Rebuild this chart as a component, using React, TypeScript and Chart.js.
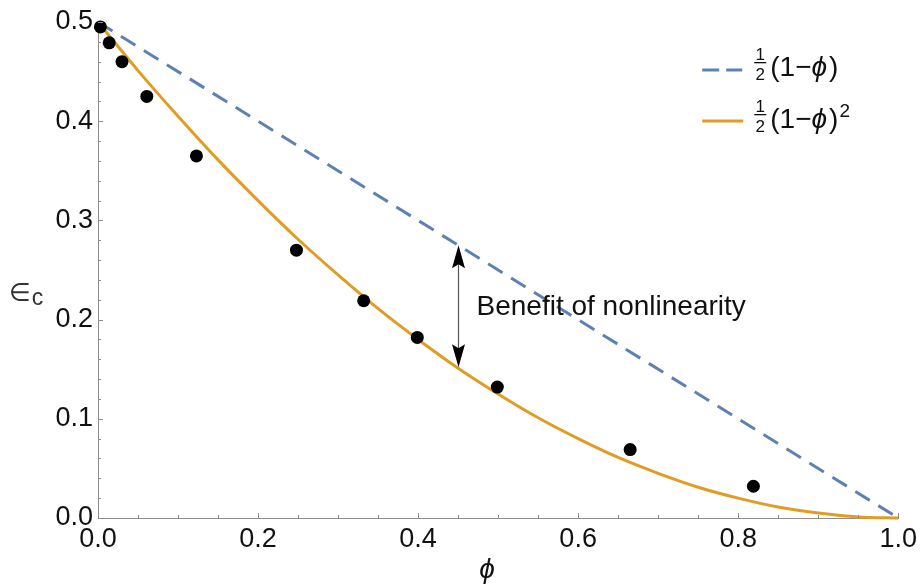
import React, { useEffect, useRef } from "react";
import { Chart, registerables } from "chart.js";

Chart.register(...registerables);

// Simulation points
const phiSamples = [0.003, 0.014, 0.03, 0.061, 0.123, 0.248, 0.332, 0.399, 0.499, 0.665, 0.819];
const epsSamples = [0.495, 0.479, 0.46, 0.425, 0.365, 0.27, 0.219, 0.182, 0.132, 0.069, 0.032];

// Quadratic curve ½(1−ϕ)²
const curvePhi = [0, 0.05, 0.1, 0.15, 0.2, 0.25, 0.3, 0.35, 0.4, 0.45, 0.5, 0.55, 0.6, 0.65, 0.7, 0.75, 0.8, 0.85, 0.9, 0.95, 1.0];
const quadEps = [0.5, 0.451, 0.405, 0.361, 0.32, 0.281, 0.245, 0.211, 0.18, 0.151, 0.125, 0.101, 0.08, 0.061, 0.045, 0.031, 0.02, 0.011, 0.005, 0.001, 0];

// Linear line ½(1−ϕ)
const linPhi = [0, 1];
const linEps = [0.5, 0];

// Minor ticks
const xMinorTicks = [0.05, 0.1, 0.15, 0.25, 0.3, 0.35, 0.45, 0.5, 0.55, 0.65, 0.7, 0.75, 0.85, 0.9, 0.95];
const xMajorTicks = [0, 0.2, 0.4, 0.6, 0.8, 1.0];
const yMinorTicks = [0.02, 0.04, 0.06, 0.08, 0.12, 0.14, 0.16, 0.18, 0.22, 0.24, 0.26, 0.28, 0.32, 0.34, 0.36, 0.38, 0.42, 0.44, 0.46, 0.48];
const yMajorTicks = [0, 0.1, 0.2, 0.3, 0.4, 0.5];

// Annotation
const arrowPhi = 0.45;
const arrowLow = 0.152;
const arrowHigh = 0.275;
const noteText = "Benefit of nonlinearity";
const notePhi = 0.473;
const noteEps = 0.212;

const BLUE = "#5E81B5";
const ORANGE = "#E19C24";
const FONT = '"Liberation Sans", Arial, sans-serif';
const AXIS = "#8c8c8c";

function drawLegendLabel(ctx: CanvasRenderingContext2D, x: number, y: number, sup: boolean) {
  // fraction 1/2
  ctx.fillStyle = "#111";
  ctx.textAlign = "center";
  ctx.textBaseline = "alphabetic";
  ctx.font = `17px ${FONT}`;
  const fx = x + 6;
  ctx.fillText("1", fx, y - 6);
  ctx.fillRect(fx - 6, y - 4, 12, 1.3);
  ctx.fillText("2", fx, y + 14);
  ctx.textAlign = "left";
  let cx = x + 16;
  const base = y + 10;
  ctx.font = `28px ${FONT}`;
  ctx.fillText("(1\u2212", cx, base);
  cx += ctx.measureText("(1\u2212").width;
  ctx.font = `italic 28px ${FONT}`;
  ctx.fillText("\u03D5", cx, base);
  cx += ctx.measureText("\u03D5").width + 2;
  ctx.font = `28px ${FONT}`;
  ctx.fillText(")", cx, base);
  cx += ctx.measureText(")").width;
  if (sup) {
    ctx.font = `19px ${FONT}`;
    ctx.fillText("2", cx + 1, base - 11);
  }
}

const decorPlugin = {
  id: "decor",
  afterDraw(chart: any) {
    const ctx: CanvasRenderingContext2D = chart.ctx;
    const xs = chart.scales.x;
    const ys = chart.scales.y;
    const ca = chart.chartArea;
    ctx.save();
    // ticks (inward)
    ctx.strokeStyle = AXIS;
    ctx.lineWidth = 1;
    ctx.beginPath();
    xMinorTicks.forEach((v) => {
      const px = Math.round(xs.getPixelForValue(v)) + 0.5;
      ctx.moveTo(px, ca.bottom);
      ctx.lineTo(px, ca.bottom - 3);
    });
    xMajorTicks.forEach((v) => {
      const px = Math.round(xs.getPixelForValue(v)) + 0.5;
      ctx.moveTo(px, ca.bottom);
      ctx.lineTo(px, ca.bottom - 5);
    });
    yMinorTicks.forEach((v) => {
      const py = Math.round(ys.getPixelForValue(v)) + 0.5;
      ctx.moveTo(ca.left, py);
      ctx.lineTo(ca.left + 3, py);
    });
    yMajorTicks.forEach((v) => {
      const py = Math.round(ys.getPixelForValue(v)) + 0.5;
      ctx.moveTo(ca.left, py);
      ctx.lineTo(ca.left + 5, py);
    });
    ctx.stroke();

    // arrow
    const ax = Math.round(xs.getPixelForValue(arrowPhi)) + 0.5;
    const yTop = ys.getPixelForValue(arrowHigh);
    const yBot = ys.getPixelForValue(arrowLow);
    ctx.strokeStyle = "#555";
    ctx.lineWidth = 1.2;
    ctx.beginPath();
    ctx.moveTo(ax, yTop + 10);
    ctx.lineTo(ax, yBot - 10);
    ctx.stroke();
    ctx.fillStyle = "#000";
    ctx.beginPath();
    ctx.moveTo(ax, yTop);
    ctx.lineTo(ax - 6.5, yTop + 23);
    ctx.lineTo(ax, yTop + 19);
    ctx.lineTo(ax + 6.5, yTop + 23);
    ctx.closePath();
    ctx.fill();
    ctx.beginPath();
    ctx.moveTo(ax, yBot);
    ctx.lineTo(ax - 6.5, yBot - 23);
    ctx.lineTo(ax, yBot - 19);
    ctx.lineTo(ax + 6.5, yBot - 23);
    ctx.closePath();
    ctx.fill();

    // note
    ctx.fillStyle = "#111";
    ctx.font = `28px ${FONT}`;
    ctx.textAlign = "left";
    ctx.textBaseline = "middle";
    ctx.fillText(noteText, xs.getPixelForValue(notePhi), ys.getPixelForValue(noteEps));

    // axis titles
    ctx.textBaseline = "alphabetic";
    ctx.textAlign = "center";
    ctx.font = `italic 28px ${FONT}`;
    ctx.fillText("\u03D5", ca.left + 0.486 * (ca.right - ca.left), 578);
    ctx.fillStyle = "#333";
    ctx.textAlign = "left";
    ctx.font = `25px "DejaVu Sans", ${FONT}`;
    ctx.fillText("\u2208", 9, 301);
    const ew = ctx.measureText("\u2208").width;
    ctx.font = `23px ${FONT}`;
    ctx.fillText("c", 9 + ew + 1, 305);

    // legend
    const lx = ca.right - 196;
    const r1 = ca.top + 48;
    const r2 = ca.top + 99;
    ctx.lineWidth = 3;
    ctx.strokeStyle = BLUE;
    ctx.setLineDash([17, 7]);
    ctx.beginPath();
    ctx.moveTo(lx, r1);
    ctx.lineTo(lx + 40, r1);
    ctx.stroke();
    ctx.setLineDash([]);
    ctx.strokeStyle = ORANGE;
    ctx.beginPath();
    ctx.moveTo(lx, r2);
    ctx.lineTo(lx + 41, r2);
    ctx.stroke();
    drawLegendLabel(ctx, lx + 52, r1 - 4, false);
    drawLegendLabel(ctx, lx + 52, r2 - 3, true);
    ctx.restore();
  },
};

export default function App() {
  const ref = useRef<HTMLCanvasElement | null>(null);
  useEffect(() => {
    if (!ref.current) return;
    const chart = new Chart(ref.current, {
      type: "line",
      data: {
        datasets: [
          {
            label: "points",
            data: phiSamples.map((x, i) => ({ x, y: epsSamples[i] })),
            showLine: false,
            pointRadius: 6.5,
            pointBackgroundColor: "#000",
            pointBorderWidth: 0,
            borderColor: "#000",
            clip: false as any,
          },
          {
            label: "quad",
            data: curvePhi.map((x, i) => ({ x, y: quadEps[i] })),
            borderColor: ORANGE,
            borderWidth: 3,
            pointRadius: 0,
            cubicInterpolationMode: "monotone",
            clip: false as any,
          },
          {
            label: "lin",
            data: linPhi.map((x, i) => ({ x, y: linEps[i] })),
            borderColor: BLUE,
            borderWidth: 3,
            borderDash: [17, 10],
            pointRadius: 0,
            clip: false as any,
          },
        ],
      },
      options: {
        animation: false,
        responsive: false,
        layout: { padding: { left: 0, top: 22, right: 22, bottom: 0 } },
        plugins: { legend: { display: false }, tooltip: { enabled: false } },
        scales: {
          x: {
            type: "linear",
            min: 0,
            max: 1,
            grid: { display: false, drawTicks: false },
            border: { display: true, color: AXIS, width: 1 },
            ticks: {
              stepSize: 0.2,
              padding: 5,
              color: "#111",
              font: { family: FONT, size: 27 },
              maxRotation: 0,
              callback: (v: any) => Number(v).toFixed(1),
            },
            afterFit: (s: any) => {
              s.height = 67;
            },
          },
          y: {
            type: "linear",
            min: 0,
            max: 0.5,
            grid: { display: false, drawTicks: false },
            border: { display: true, color: AXIS, width: 1 },
            ticks: {
              stepSize: 0.1,
              padding: 5,
              color: "#111",
              font: { family: FONT, size: 27 },
              callback: (v: any) => Number(v).toFixed(1),
            },
            afterFit: (s: any) => {
              s.width = 98;
            },
          },
        },
      },
      plugins: [decorPlugin],
    });
    return () => chart.destroy();
  }, []);
  return (
    <div style={{ position: "absolute", left: 0, top: 0, width: 922, height: 585, background: "#fff" }}>
      <canvas ref={ref} width={922} height={585} />
    </div>
  );
}
